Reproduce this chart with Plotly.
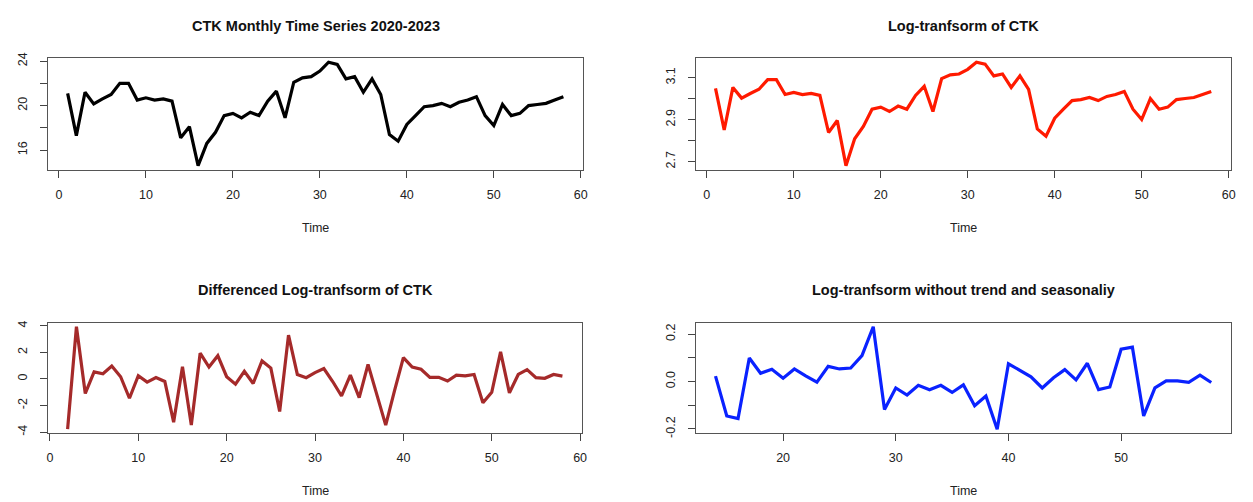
import plotly.graph_objects as go

# ---------------- data ----------------
t_full = list(range(1, 59))
ctk = [21.1, 17.3, 21.2, 20.15, 20.6, 21.0, 22.0, 22.0, 20.5, 20.7,
       20.5, 20.6, 20.4, 17.1, 18.1, 14.6, 16.6, 17.6, 19.1, 19.3,
       18.9, 19.4, 19.1, 20.4, 21.3, 18.9, 22.1, 22.5, 22.6, 23.1,
       23.9, 23.7, 22.4, 22.6, 21.2, 22.4, 21.0, 17.4, 16.8, 18.3,
       19.1, 19.9, 20.0, 20.2, 19.9, 20.3, 20.5, 20.8, 19.1, 18.2,
       20.1, 19.1, 19.3, 20.0, 20.1, 20.2, 20.5, 20.8]

log_ctk = [3.049, 2.851, 3.054, 3.003, 3.025, 3.045, 3.091, 3.091, 3.020, 3.030,
           3.020, 3.025, 3.016, 2.839, 2.896, 2.681, 2.809, 2.868, 2.950, 2.960,
           2.939, 2.965, 2.950, 3.016, 3.059, 2.939, 3.096, 3.114, 3.118, 3.140,
           3.174, 3.165, 3.109, 3.118, 3.054, 3.109, 3.045, 2.856, 2.821, 2.907,
           2.950, 2.991, 2.996, 3.006, 2.991, 3.011, 3.020, 3.035, 2.950, 2.901,
           3.001, 2.950, 2.960, 2.996, 3.001, 3.006, 3.020, 3.035]

t_diff = list(range(2, 59))
diff_ctk = [-3.78, 3.93, -1.09, 0.53, 0.39, 0.97, 0.17, -1.45, 0.24,
            -0.24, 0.10, -0.19, -3.25, 0.92, -3.47, 1.94, 0.90, 1.75, 0.17,
            -0.39, 0.58, -0.34, 1.36, 0.82, -2.45, 3.30, 0.34, 0.10, 0.48,
            0.78, -0.19, -1.28, 0.29, -1.40, 1.10, -1.16, -3.47, -0.87, 1.60,
            0.90, 0.73, 0.12, 0.12, -0.15, 0.29, 0.24, 0.34, -1.79, -1.00,
            2.04, -1.04, 0.34, 0.70, 0.10, 0.05, 0.34, 0.22]

t_resid = list(range(14, 59))
resid_ctk = [0.023, -0.145, -0.156, 0.099, 0.035, 0.052, 0.014,
             0.053, 0.024, -0.003, 0.064, 0.053, 0.057, 0.109, 0.231, -0.118, -0.027,
             -0.057, -0.016, -0.035, -0.016, -0.046, -0.014, -0.102, -0.061, -0.201, 0.075,
             0.047, 0.020, -0.027, 0.016, 0.050, 0.007, 0.077, -0.034, -0.023, 0.136,
             0.145, -0.145, -0.027, 0.003, 0.003, -0.003, 0.027, -0.004]

titles = ["CTK Monthly Time Series 2020-2023", "Log-tranfsorm of CTK",
          "Differenced Log-tranfsorm of CTK", "Log-tranfsorm without trend and seasonaliy"]

y1_ticks = [16, 18, 20, 22, 24]
y1_text = ["16", "", "20", "", "24"]
y2_ticks = [2.7, 2.8, 2.9, 3.0, 3.1]
y2_text = ["2.7", "", "2.9", "", "3.1"]
y3_ticks = [-4, -2, 0, 2, 4]
y3_text = ["-4", "-2", "0", "2", "4"]
y4_ticks = [-0.2, -0.1, 0.0, 0.1, 0.2]
y4_text = ["-0.2", "", "0.0", "", "0.2"]
x_ticks = [0, 10, 20, 30, 40, 50, 60]

# ---------------- figure ----------------
OFF = 8                      # page body margin
W, H = 1253 - OFF, 502 - OFF


def pad(vals, f=0.04):
    lo, hi = min(vals), max(vals)
    d = (hi - lo) * f
    return [lo - d, hi + d]


panels = [
    dict(x=t_full, y=ctk, color="#000000", xd=(47, 585), yd=(53, 167), yt=(y1_ticks, y1_text)),
    dict(x=t_full, y=log_ctk, color="#FF1A00", xd=(698, 1236), yd=(53, 167), yt=(y2_ticks, y2_text)),
    dict(x=t_diff, y=diff_ctk, color="#A52A2A", xd=(47, 584), yd=(323, 436), yt=(y3_ticks, y3_text)),
    dict(x=t_resid, y=resid_ctk, color="#0A22FF", xd=(698, 1236), yd=(323, 436), yt=(y4_ticks, y4_text)),
]

fig = go.Figure()
font_fam = "Liberation Sans, Arial, sans-serif"
layout = dict(
    width=W, height=H, autosize=False,
    margin=dict(l=0, r=0, t=0, b=0),
    paper_bgcolor="white", plot_bgcolor="white",
    showlegend=False,
    font=dict(family=font_fam, color="#222222", size=12),
)


def px_x(v):
    return (v - OFF) / W


def px_y(v):
    return 1 - (v - OFF) / H


annotations = []
for i, p in enumerate(panels, start=1):
    xa = "xaxis" if i == 1 else f"xaxis{i}"
    ya = "yaxis" if i == 1 else f"yaxis{i}"
    xr = "x" if i == 1 else f"x{i}"
    yr = "y" if i == 1 else f"y{i}"
    fig.add_trace(go.Scatter(x=p["x"], y=p["y"], mode="lines",
                             line=dict(color=p["color"], width=3.2),
                             xaxis=xr, yaxis=yr, hoverinfo="skip"))
    xdom = [px_x(p["xd"][0]), px_x(p["xd"][1])]
    ydom = [px_y(p["yd"][1]), px_y(p["yd"][0])]
    layout[xa] = dict(domain=xdom, anchor=yr, range=pad(p["x"]),
                      tickvals=x_ticks, showgrid=False, zeroline=False,
                      showline=True, mirror=True, linecolor="#555555", linewidth=1.2,
                      ticks="outside", ticklen=7, tickcolor="#444444", tickwidth=1,
                      tickfont=dict(size=12.5, color="#222222"),
                      ticklabelstandoff=6)
    layout[ya] = dict(domain=ydom, anchor=xr, range=pad(p["y"]),
                      tickvals=p["yt"][0], ticktext=p["yt"][1],
                      showgrid=False, zeroline=False,
                      showline=True, mirror=True, linecolor="#555555", linewidth=1.2,
                      ticks="outside", ticklen=7, tickcolor="#444444", tickwidth=1,
                      tickangle=-90, tickfont=dict(size=12.5, color="#222222"),
                      ticklabelstandoff=8)
    cx = (xdom[0] + xdom[1]) / 2
    annotations.append(dict(text=f"<b>{titles[i-1]}</b>", x=cx, xref="paper",
                            y=px_y(p["yd"][0] - 33), yref="paper",
                            xanchor="center", yanchor="middle", showarrow=False,
                            font=dict(size=14.5, color="#111111", family=font_fam)))
    annotations.append(dict(text="Time", x=cx, xref="paper",
                            y=px_y(p["yd"][1] + 59), yref="paper",
                            xanchor="center", yanchor="middle", showarrow=False,
                            font=dict(size=12.5, color="#222222", family=font_fam)))

layout["annotations"] = annotations
fig.update_layout(**layout)
fig.write_html("out.html")
